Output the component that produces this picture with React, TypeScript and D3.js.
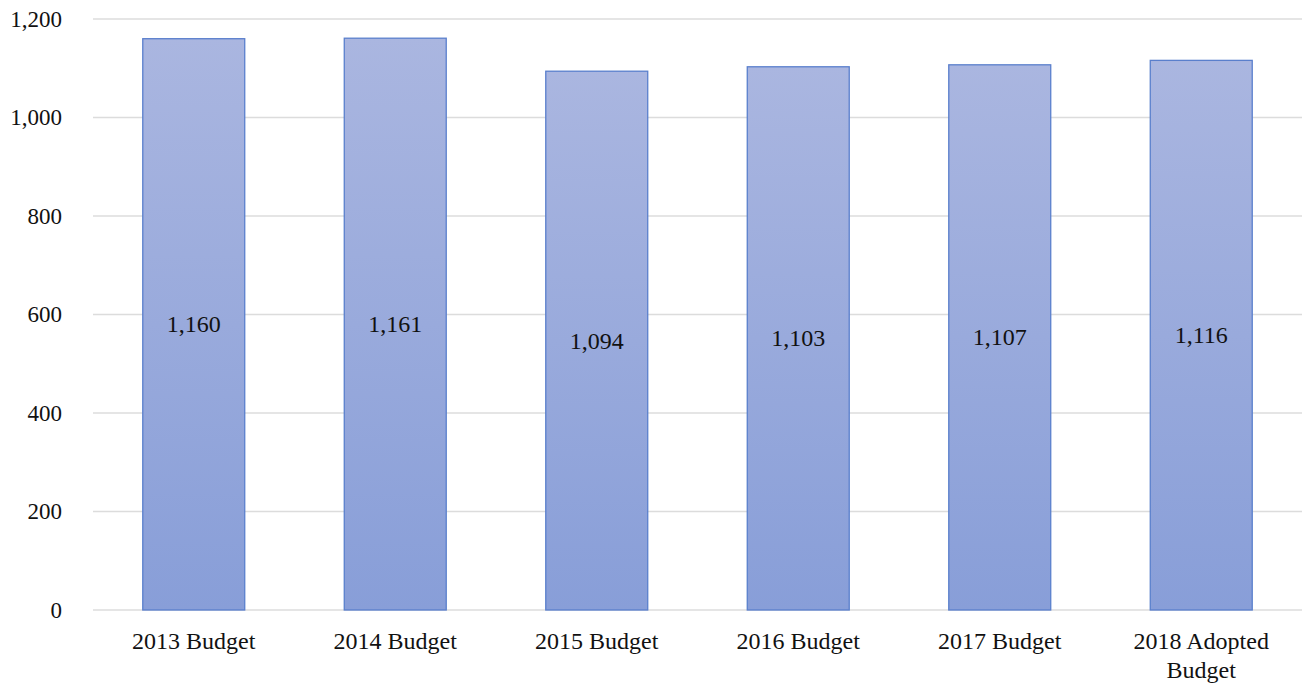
import React from "react";
import * as d3 from "d3";

const categories: string[][] = [
  ["2013 Budget"],
  ["2014 Budget"],
  ["2015 Budget"],
  ["2016 Budget"],
  ["2017 Budget"],
  ["2018 Adopted", "Budget"],
];
const values: number[] = [1160, 1161, 1094, 1103, 1107, 1116];
const yTicks: number[] = [0, 200, 400, 600, 800, 1000, 1200];

const W = 1308;
const H = 688;
const left = 93;
const right = 1302;
const top = 19;
const bottom = 610;
const font = "'Liberation Serif', 'DejaVu Serif', serif";

export default function App() {
  const keys = categories.map((c) => c.join(" "));
  const x = d3.scaleBand<string>().domain(keys).range([left, right]).paddingInner(0.494).paddingOuter(0.247);
  const y = d3.scaleLinear().domain([0, 1200]).range([bottom, top]);
  const fmt = d3.format(",");

  return (
    <div style={{ position: "fixed", left: 0, top: 0 }}>
      <svg width={W} height={H} style={{ display: "block", background: "#fff" }}>
        <defs>
          <linearGradient id="barGrad" x1="0" y1="0" x2="0" y2="1">
            <stop offset="0" stopColor="#aab6e0" />
            <stop offset="1" stopColor="#889ed8" />
          </linearGradient>
        </defs>
        {yTicks.map((t) => (
          <g key={t}>
            <line x1={left} x2={right} y1={y(t)} y2={y(t)} stroke="#dcdcdc" strokeWidth={1.3} />
            <text x={62} y={y(t)} dy="0.33em" textAnchor="end" fontFamily={font} fontSize={23} fill="#111">
              {fmt(t)}
            </text>
          </g>
        ))}
        {values.map((v, i) => {
          const k = keys[i];
          const bx = x(k)!;
          const bw = x.bandwidth();
          return (
            <g key={k}>
              <rect
                x={bx}
                y={y(v)}
                width={bw}
                height={y(0) - y(v)}
                fill="url(#barGrad)"
                stroke="#5a7fcc"
                strokeWidth={1.3}
              />
              <text
                x={bx + bw / 2}
                y={(y(v) + y(0)) / 2}
                dy="0.33em"
                textAnchor="middle"
                fontFamily={font}
                fontSize={24}
                fill="#111"
              >
                {fmt(v)}
              </text>
            </g>
          );
        })}
        {categories.map((lines, i) => {
          const k = keys[i];
          const cx = x(k)! + x.bandwidth() / 2;
          return (
            <text key={k} x={cx} y={649} textAnchor="middle" fontFamily={font} fontSize={24} fill="#111">
              {lines.map((l, j) => (
                <tspan key={j} x={cx} dy={j === 0 ? 0 : 29}>
                  {l}
                </tspan>
              ))}
            </text>
          );
        })}
      </svg>
    </div>
  );
}
